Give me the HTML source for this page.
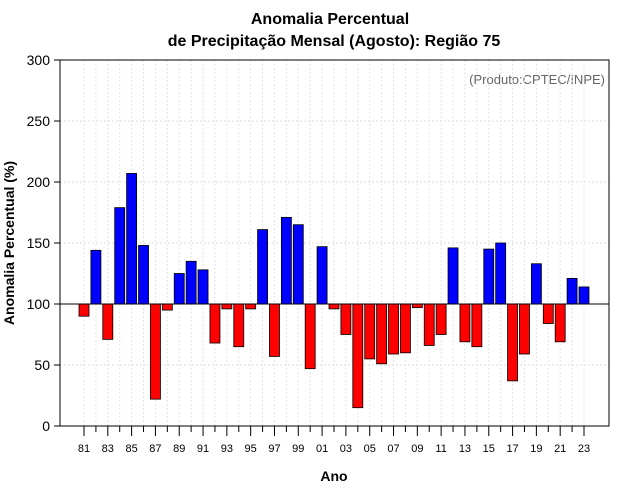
<!DOCTYPE html>
<html><head><meta charset="utf-8"><style>body{margin:0;background:#fff}svg{display:block;font-family:"Liberation Sans",sans-serif}</style></head>
<body>
<svg id="chart" width="640" height="500">
<text x="330" y="24" text-anchor="middle" font-size="16" font-weight="bold">Anomalia Percentual</text>
<text x="334" y="46" text-anchor="middle" font-size="16" font-weight="bold">de Precipitação Mensal (Agosto): Região 75</text>
<text x="605" y="84" text-anchor="end" font-size="13" fill="#666">(Produto:CPTEC/INPE)</text>
<text x="334" y="481" text-anchor="middle" font-size="14" font-weight="bold">Ano</text>
<text transform="translate(14,243) rotate(-90)" text-anchor="middle" font-size="14" font-weight="bold">Anomalia Percentual (%)</text>
<g id="grid"></g><g id="bars"></g><g id="axes"></g>
<rect x="60" y="60" width="549" height="366" fill="none" stroke="#000"/>
</svg>
<script>
const years=[81,82,83,84,85,86,87,88,89,90,91,92,93,94,95,96,97,98,99,0,1,2,3,4,5,6,7,8,9,10,11,12,13,14,15,16,17,18,19,20,21,22,23];
const values=[90,144,71,179,207,148,22,95,125,135,128,68,96,65,96,161,57,171,165,47,147,96,75,15,55,51,59,60,97,66,75,146,69,65,145,150,37,59,133,84,69,121,114];
const yTicks=[0,50,100,150,200,250,300];
const ns="http://www.w3.org/2000/svg";
const x=i=>84+i*(500/42);
const y=v=>426-v*1.22;
function mk(t,a,p){const e=document.createElementNS(ns,t);for(const k in a)e.setAttribute(k,a[k]);document.getElementById(p).appendChild(e);return e;}
yTicks.forEach(v=>{
 let g=mk('line',{x1:60,x2:609,y1:y(v),y2:y(v),stroke:'#ddd','stroke-dasharray':'2,2'},'grid');
 
 
 let t=mk('line',{x1:54,x2:60,y1:y(v),y2:y(v),stroke:'#000'},'axes');
 
 
 let l=mk('text',{x:50,y:y(v)+5,'text-anchor':'end','font-size':14},'axes');l.textContent=v;
 
 
});
years.forEach((yr,i)=>{
 let g=mk('line',{x1:x(i),x2:x(i),y1:60,y2:426,stroke:'#e4e4e4','stroke-dasharray':'2,2'},'grid');
 
 
 let t=mk('line',{x1:x(i),x2:x(i),y1:426,y2:i%2==0?436:432,stroke:'#000'},'axes');
 
 
 if(i%2==0){let l=mk('text',{x:x(i),y:452,'text-anchor':'middle','font-size':11},'axes');l.textContent=String(yr).padStart(2,'0');
 
 }
 const v=values[i];
 let b=mk('rect',{x:x(i)-5,y:Math.min(y(v),y(100)),width:10,height:Math.abs(y(v)-y(100)),fill:v>=100?'#0000ff':'#ff0000',stroke:'#000','stroke-width':0.8},'bars');
 
 
});
let bl=mk('line',{x1:60,x2:609,y1:y(100),y2:y(100),stroke:'#000'},'bars');


</script>
</body></html>
